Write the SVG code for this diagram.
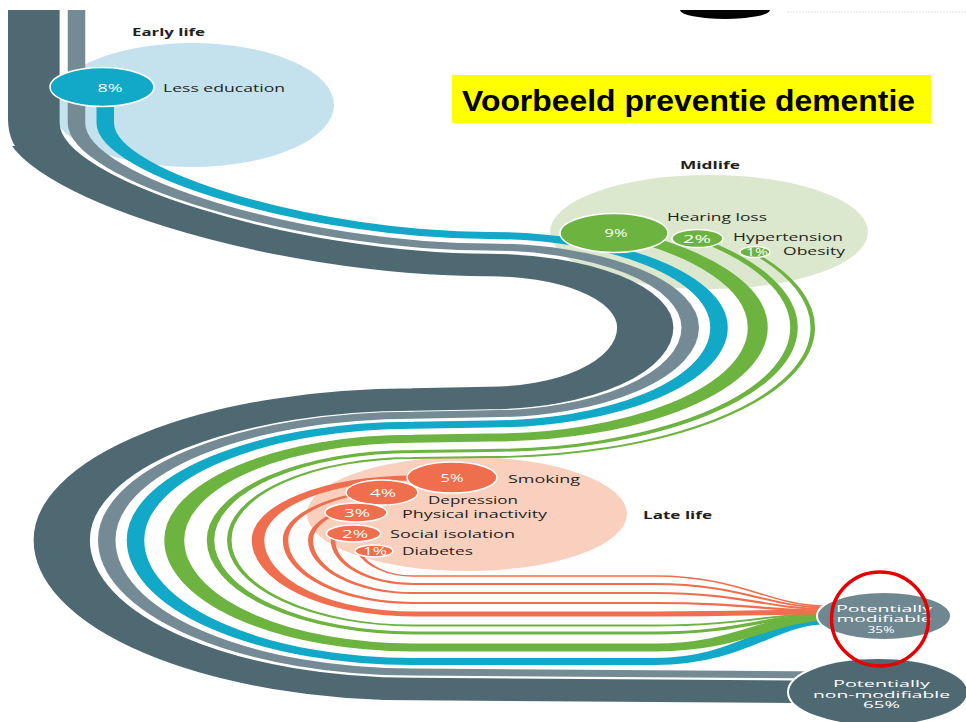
<svg xmlns="http://www.w3.org/2000/svg" width="966" height="722" viewBox="0 0 966 722">
<style>
.band{fill:none;stroke-linecap:butt}
.dk{stroke:#4f6973}.gy{stroke:#748b95}.cy{stroke:#12a8c8}.gn{stroke:#6cb33f}.or{stroke:#ef6e4d}
.lbl{font-family:"Open Sans","Noto Sans","DejaVu Sans",sans-serif;font-size:11px;fill:#231f20}
.sm{font-size:10px}
.hd{font-family:"Open Sans","Noto Sans","DejaVu Sans",sans-serif;font-size:10px;font-weight:bold;fill:#231f20}
.pct{font-family:"Open Sans","Noto Sans","DejaVu Sans",sans-serif;font-size:10px;fill:#ffffff;text-anchor:middle}
.out{font-family:"Open Sans","Noto Sans","DejaVu Sans",sans-serif;font-size:8.6px;fill:#ffffff;text-anchor:middle}
.nd{stroke:#ffffff;stroke-width:1.5}
.fc{fill:#12a8c8}.fg{fill:#6cb33f}.fo{fill:#ef6e4d}
</style>
<rect x="0" y="0" width="966" height="722" fill="#ffffff"/>

<g id="stage-backgrounds">
<ellipse cx="192" cy="105" rx="142" ry="62" fill="#c4e2ed"/>
<ellipse cx="709" cy="232" rx="159" ry="57" fill="#dbe8ce"/>
<ellipse cx="467" cy="514" rx="160" ry="57" fill="#f9d0be"/>
</g>

<g id="connectors" class="band" transform="scale(2.5,1)">
<path class="dk" stroke-width="22.5" d="M12.6,10 L12.6,123 C12.6,186.9 113.25,265 195.6,265 A62.5,62.5 0 0 1 258.1,327.5 A62.5,70.5 0 0 1 195.6,398 L165.2,399.5 A140.5,140.5 0 0 0 24.7,540 A140.5,149 0 0 0 165.2,689 L330,692"/>
<path class="gy" stroke-width="7" d="M30.6,10 L30.6,123 C30.6,178.8 121.35,247 195.6,247 A80.5,80.5 0 0 1 276.1,327.5 A80.5,86.3 0 0 1 195.6,413.8 L165.2,415.2 A122.5,124.8 0 0 0 42.7,540 A122.5,132 0 0 0 165.2,672 L330,675"/>
<path class="cy" stroke-width="7" d="M42.1,88 L42.1,123 C42.1,173.6 126.5,235.5 195.6,235.5 A92,92 0 0 1 287.6,327.5 A92,96.5 0 0 1 195.6,424 L165.2,425.3 A111,114.8 0 0 0 54.2,540 A111,121.5 0 0 0 165.2,661.5 L262,661.5 C296,661.5 308,621 330,621"/>
<path class="gn" stroke-width="8" d="M245.6,232.3 A107.5,107.5 0 0 1 303.1,327.5 A107.5,110.1 0 0 1 195.6,437.6 L165.2,438.8 A95.5,101.2 0 0 0 69.7,540 A95.5,107.5 0 0 0 165.2,647.5 L262,647.5 C296,647.5 308,617 330,617"/>
<path class="gn" stroke-width="3" d="M278.8,238.3 A122,122 0 0 1 317.6,327.5 A122,122.9 0 0 1 195.6,450.4 L165.2,451.4 A81,88.6 0 0 0 84.2,540 A81,93 0 0 0 165.2,633 L262,633 C296,633 308,615 330,615"/>
<path class="gn" stroke-width="1.8" d="M302,253.7 A129.5,129.5 0 0 1 325.1,327.5 A129.5,129.5 0 0 1 195.6,457 L165.2,458 A73.5,82 0 0 0 91.7,540 A73.5,85.5 0 0 0 165.2,625.5 L262,625.5 C296,625.5 308,614 330,614"/>
<path class="or" stroke-width="5" d="M176,478 L165.2,478 A62,62 0 0 0 103.2,540 A62,74 0 0 0 165.2,614 L262,614 C296,614 308,612 330,612"/>
<path class="or" stroke-width="2.2" d="M152.8,490.5 A51,51 0 0 0 114.2,540 A51,63 0 0 0 165.2,603 L262,603 C296,603 308,610.5 330,610.5"/>
<path class="or" stroke-width="2" d="M142.4,505.9 A41,41 0 0 0 124.2,540 A41,53 0 0 0 165.2,593 L262,593 C296,593 308,609 330,609"/>
<path class="or" stroke-width="1.8" d="M134,533 A32,32 0 0 0 133.2,540 A32,44 0 0 0 165.2,584 L262,584 C296,584 308,607.5 330,607.5"/>
<path class="or" stroke-width="1.3" d="M143.3,551 A23,36 0 0 0 165.2,576 L262,576 C296,576 308,606 330,606"/>
</g>
<path d="M0,10 H8 V118 C8,128 10,138 15,146 L0,146 Z" fill="#ffffff"/>

<g id="top-marks">
<path d="M680,10 A45,9 0 0 0 770,10 Z" fill="#000000"/>
<line x1="787" y1="12" x2="966" y2="12" stroke="#e2e2e2" stroke-width="1" stroke-dasharray="2 1"/>
</g>

<g id="title">
<rect x="452" y="75" width="479" height="48" fill="#ffff00"/>
<text x="462" y="111" font-family="'Liberation Sans',Arial,sans-serif" font-weight="bold" font-size="30" textLength="453" lengthAdjust="spacingAndGlyphs" fill="#000000">Voorbeeld preventie dementie</text>
</g>

<g id="early-life">
<text class="hd" x="132" y="36" textLength="73" lengthAdjust="spacingAndGlyphs">Early life</text>
<ellipse class="nd fc" cx="102" cy="87" rx="52" ry="19.5"/>
<text class="pct" x="110" y="91.5" textLength="25" lengthAdjust="spacingAndGlyphs">8%</text>
<text class="lbl" x="163" y="92" textLength="122" lengthAdjust="spacingAndGlyphs">Less education</text>
</g>

<g id="midlife">
<text class="hd" x="680" y="169" textLength="60" lengthAdjust="spacingAndGlyphs">Midlife</text>
<ellipse class="nd fg" cx="614" cy="233" rx="54" ry="19.5"/>
<text class="pct" x="616" y="237" textLength="23" lengthAdjust="spacingAndGlyphs">9%</text>
<text class="lbl" x="667" y="221" textLength="100" lengthAdjust="spacingAndGlyphs">Hearing loss</text>
<ellipse class="nd fg" cx="697.5" cy="238.5" rx="25.5" ry="9"/>
<text class="pct" x="697" y="242.5" textLength="28" lengthAdjust="spacingAndGlyphs">2%</text>
<text class="lbl" x="733" y="241" textLength="110" lengthAdjust="spacingAndGlyphs">Hypertension</text>
<ellipse class="nd fg" cx="755" cy="252" rx="15" ry="5.5"/>
<text class="pct" x="757" y="255.5" font-size="9" textLength="22" lengthAdjust="spacingAndGlyphs">1%</text>
<text class="lbl" x="783" y="255" textLength="62" lengthAdjust="spacingAndGlyphs">Obesity</text>
</g>

<g id="late-life">
<text class="hd" x="643" y="518.5" textLength="69" lengthAdjust="spacingAndGlyphs">Late life</text>
<ellipse class="nd fo" cx="452" cy="477.5" rx="45" ry="15.5"/>
<text class="pct" x="452" y="482" textLength="23" lengthAdjust="spacingAndGlyphs">5%</text>
<text class="lbl sm" x="508" y="482.5" textLength="72" lengthAdjust="spacingAndGlyphs">Smoking</text>
<ellipse class="nd fo" cx="382" cy="492.5" rx="36" ry="12.5"/>
<text class="pct" x="383" y="497" textLength="26" lengthAdjust="spacingAndGlyphs">4%</text>
<text class="lbl sm" x="428" y="504" textLength="90" lengthAdjust="spacingAndGlyphs">Depression</text>
<ellipse class="nd fo" cx="356" cy="512.5" rx="31" ry="9.5"/>
<text class="pct" x="357" y="517" textLength="26" lengthAdjust="spacingAndGlyphs">3%</text>
<text class="lbl sm" x="402" y="518" textLength="145" lengthAdjust="spacingAndGlyphs">Physical inactivity</text>
<ellipse class="nd fo" cx="353.5" cy="533.5" rx="27" ry="8.5"/>
<text class="pct" x="355" y="537.5" textLength="26" lengthAdjust="spacingAndGlyphs">2%</text>
<text class="lbl sm" x="390" y="537.5" textLength="125" lengthAdjust="spacingAndGlyphs">Social isolation</text>
<ellipse class="nd fo" cx="374" cy="551" rx="19" ry="6"/>
<text class="pct" x="375" y="555" font-size="9" textLength="24" lengthAdjust="spacingAndGlyphs">1%</text>
<text class="lbl sm" x="402" y="554.5" textLength="71" lengthAdjust="spacingAndGlyphs">Diabetes</text>
</g>

<g id="potentially-modifiable">
<ellipse cx="884" cy="616" rx="67" ry="24" fill="#6f8791" stroke="#ffffff" stroke-width="2"/>
<text class="out" x="884" y="611.5" textLength="96" lengthAdjust="spacingAndGlyphs">Potentially</text>
<text class="out" x="884" y="622" textLength="95" lengthAdjust="spacingAndGlyphs">modifiable</text>
<text class="out" x="881" y="632.5" textLength="27" lengthAdjust="spacingAndGlyphs">35%</text>
</g>

<g id="potentially-non-modifiable">
<ellipse cx="878" cy="692" rx="90" ry="34" fill="#4f6973" stroke="#ffffff" stroke-width="2"/>
<text class="out" x="881.5" y="687" textLength="97" lengthAdjust="spacingAndGlyphs">Potentially</text>
<text class="out" x="881.5" y="697.5" textLength="137" lengthAdjust="spacingAndGlyphs">non-modifiable</text>
<text class="out" x="881.5" y="708" textLength="37" lengthAdjust="spacingAndGlyphs">65%</text>
</g>

<g id="highlight-ring">
<ellipse cx="880" cy="619" rx="48.5" ry="47" fill="none" stroke="#e60000" stroke-width="3.5"/>
</g>
</svg>
